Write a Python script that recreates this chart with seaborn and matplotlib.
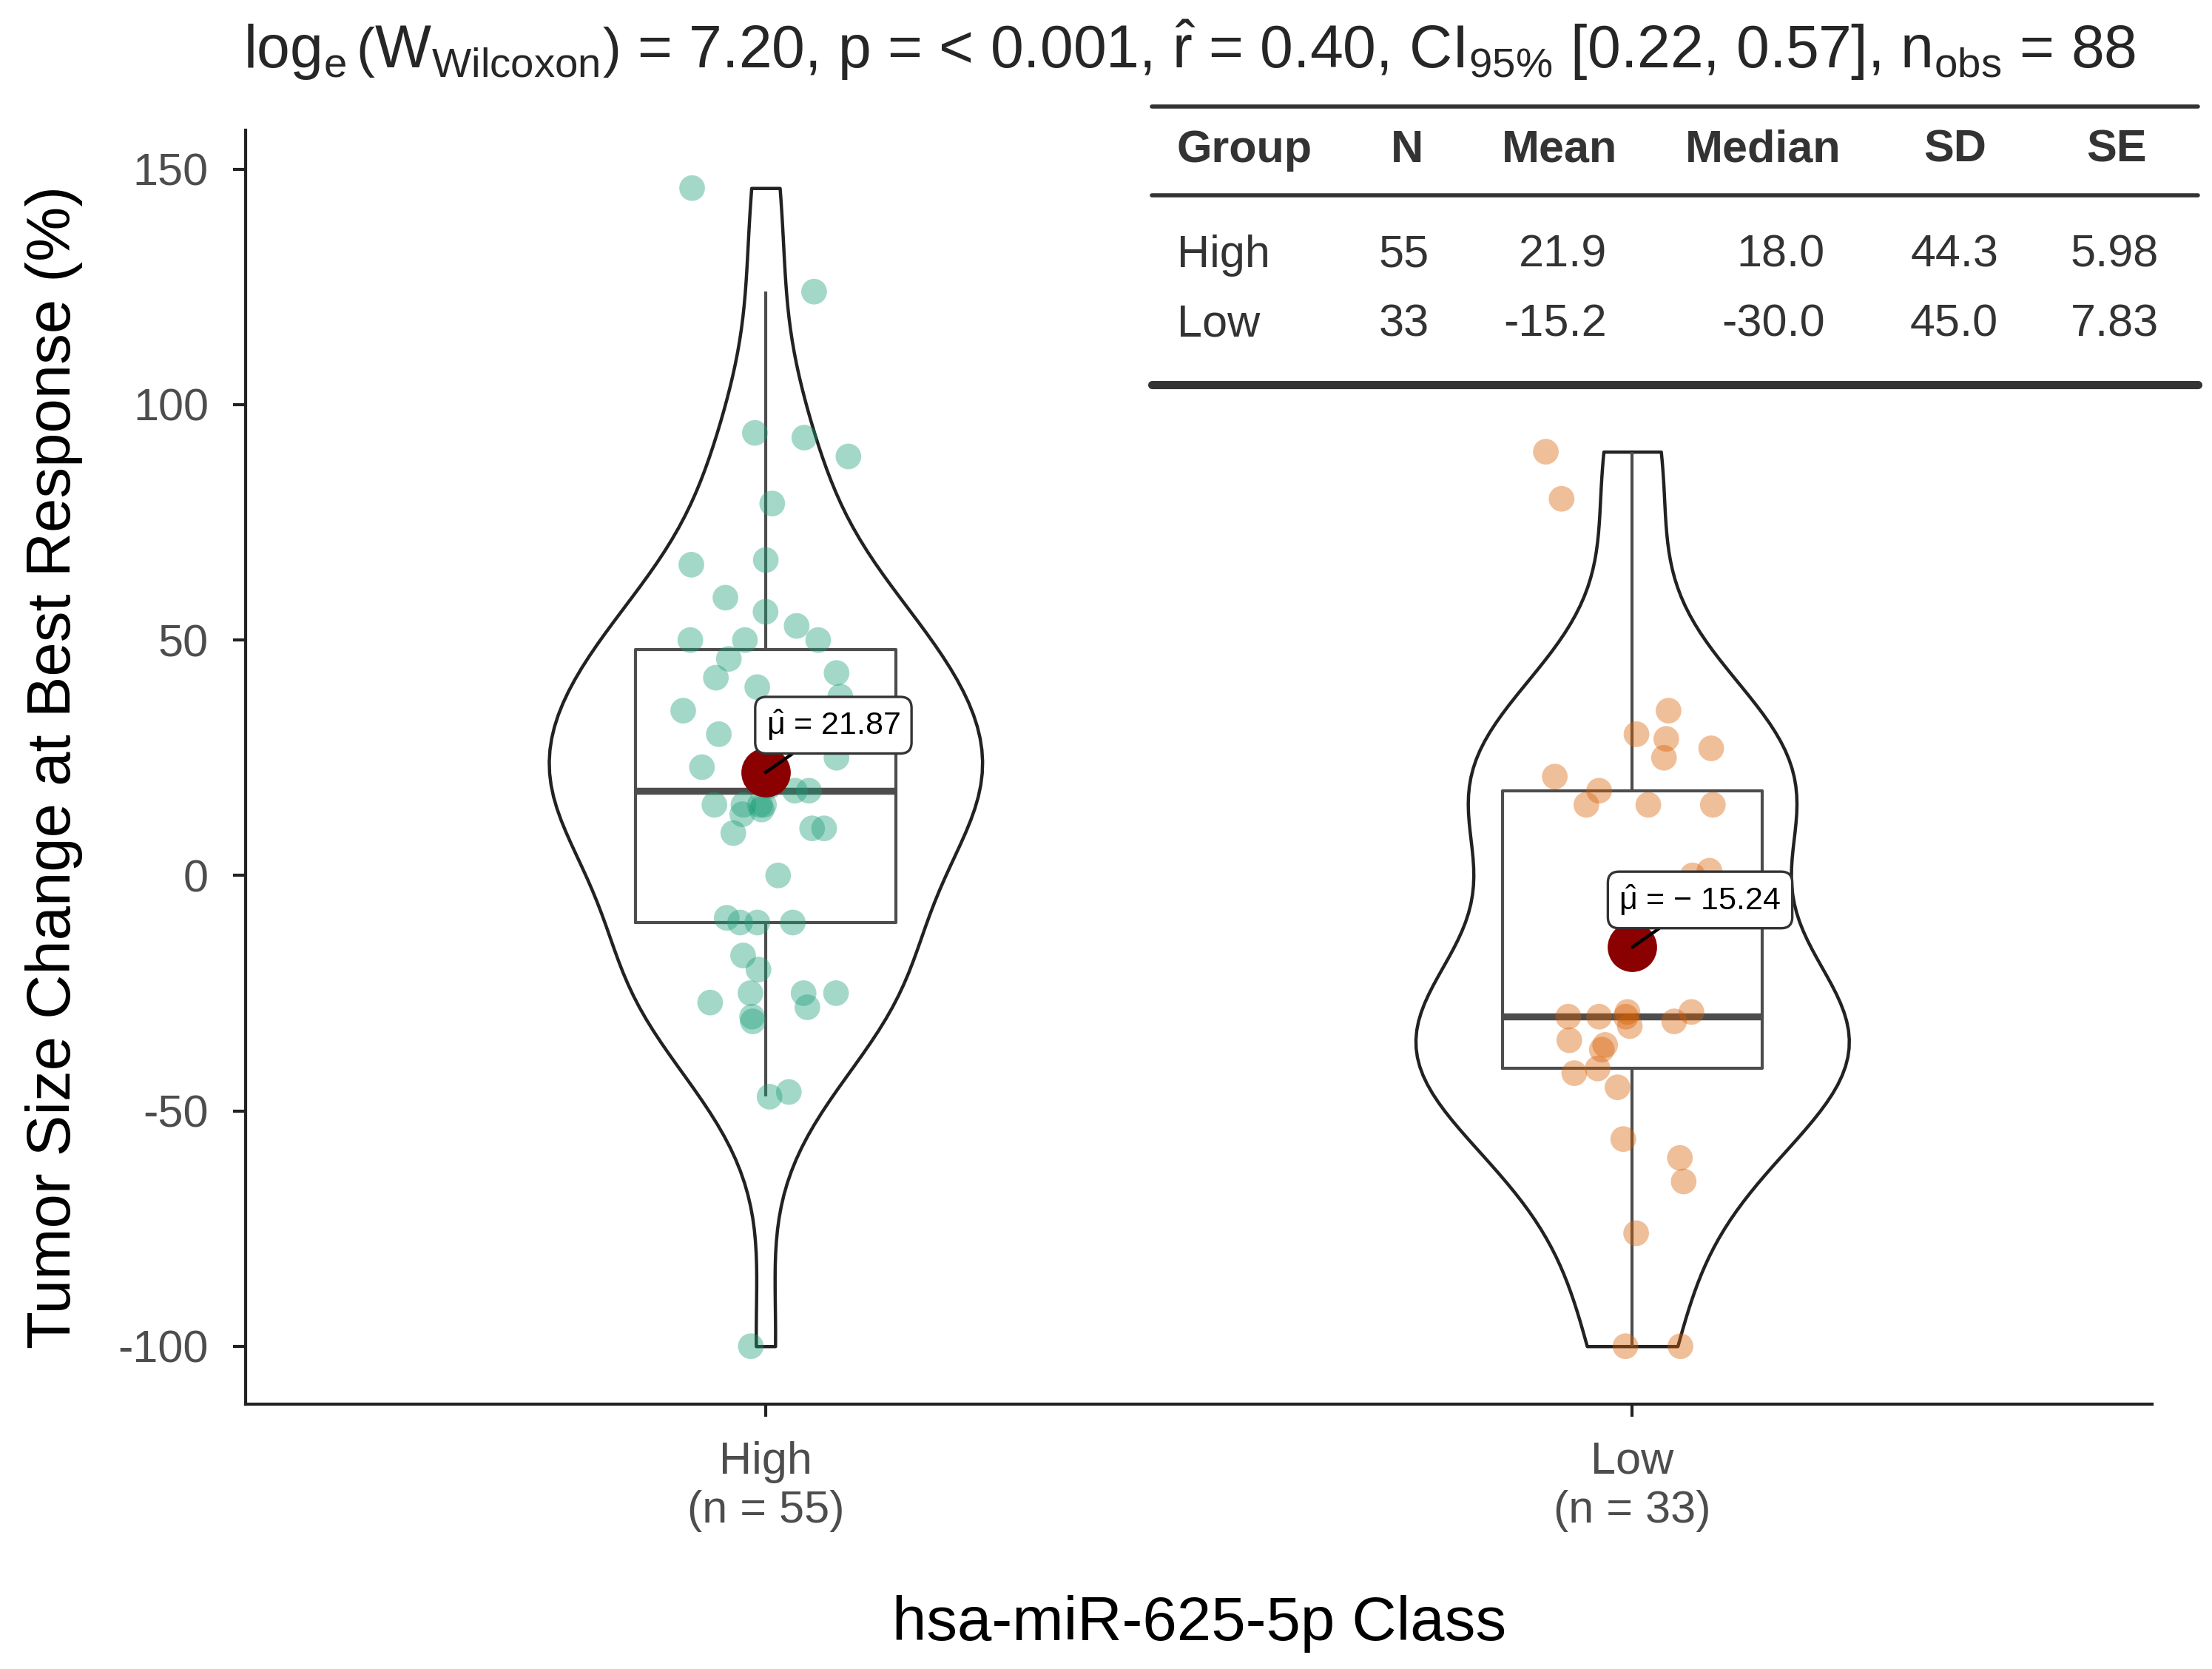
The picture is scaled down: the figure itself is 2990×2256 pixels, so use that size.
import numpy as np
import pandas as pd
import matplotlib
matplotlib.use("Agg")
import matplotlib.pyplot as plt
import seaborn as sns

# values
groups = ["High", "Low"]
high_vals = [146, 124, 94, 93, 89, 79, 67, 66, 59, 56, 53, 50, 50, 50, 46, 43,
             42, 40, 38, 35, 34, 32, 30, 28, 25, 23, 19, 18, 18, 15, 15, 15, 15,
             14, 13, 10, 10, 9, 0, -9, -10, -10, -10, -17, -20, -25, -25, -25,
             -27, -28, -30, -31, -46, -47, -100]
low_vals = [90, 80, 35, 30, 29, 27, 25, 21, 18, 15, 15, 15, 1, 0,
            -29, -29, -30, -30, -30, -31, -32, -35, -36, -37, -41, -42, -45,
            -56, -60, -65, -76, -100, -100]
group_colors = ["#1B9E77", "#D95F02"]

title_txt = (r"$\log_{\mathrm{e}}\left(\mathrm{W}_{\mathrm{Wilcoxon}}\right)$ = 7.20, p = < 0.001, "
             r"$\hat{\mathrm{r}}$ = 0.40, CI$_{95\%}$ [0.22, 0.57], n$_{\mathrm{obs}}$ = 88")

table_header = ["Group", "N", "Mean", "Median", "SD", "SE"]
table_group = ["High", "Low"]
table_n = ["55", "33"]
table_mean = ["21.9", "-15.2"]
table_median = ["18.0", "-30.0"]
table_sd = ["44.3", "45.0"]
table_se = ["5.98", "7.83"]

df = pd.DataFrame({
    "cls": ["High"] * len(high_vals) + ["Low"] * len(low_vals),
    "value": high_vals + low_vals,
})

sns.set_theme(style="ticks")
plt.rcParams["font.family"] = ["Liberation Sans", "DejaVu Sans"]
plt.rcParams["mathtext.fontset"] = "custom"
plt.rcParams["mathtext.rm"] = "Liberation Sans"
plt.rcParams["mathtext.it"] = "Liberation Sans"
plt.rcParams["mathtext.bf"] = "Liberation Sans:bold"

fig = plt.figure(figsize=(14.95, 11.28), dpi=200)
ax = fig.add_axes([0.111, 0.1587, 0.862, 0.7633])

pal = dict(zip(groups, group_colors))

sns.violinplot(data=df, x="cls", y="value", order=groups, cut=0, bw_adjust=0.92,
               width=0.5, density_norm="width", inner=None, color="white",
               linecolor="#222222", linewidth=1.6, saturation=1, ax=ax, zorder=1)

sns.boxplot(data=df, x="cls", y="value", order=groups, width=0.3, showfliers=False,
            showcaps=False, fill=False, color="#4D4D4D", linewidth=1.5,
            medianprops={"linewidth": 3.4}, whis=1.5, ax=ax, zorder=2)

np.random.seed(7)
sns.stripplot(data=df, x="cls", y="value", order=groups, hue="cls", palette=pal,
              alpha=0.4, size=12.5, jitter=0.1, linewidth=0, legend=False,
              ax=ax, zorder=3)

sns.pointplot(data=df, x="cls", y="value", order=groups, estimator="mean",
              errorbar=None, linestyle="none", color="#8B0000", markersize=22,
              ax=ax, zorder=5)

means = df.groupby("cls")["value"].mean()
for i, g in enumerate(groups):
    lab = r"$\hat{\mu}$ = " + f"{means[g]:.2f}".replace("-", "\u2212 ")
    ax.annotate(lab, xy=(i, means[g]), xytext=(33, 23), textcoords="offset points",
                ha="center", va="center", fontsize=15.5, color="black", zorder=6,
                bbox=dict(boxstyle="round,pad=0.35,rounding_size=0.35", fc="white",
                          ec="#333333", lw=1.2),
                arrowprops=dict(arrowstyle="-", color="black", lw=1.6,
                                shrinkA=0, shrinkB=0))

ax.set_ylim(-112.3, 158.3)
ax.set_xlim(-0.6, 1.6)
ax.set_yticks([-100, -50, 0, 50, 100, 150])
ax.set_yticklabels(["-100", "-50", "0", "50", "100", "150"])
counts = df["cls"].value_counts()
ax.set_xticks(range(len(groups)))
ax.set_xticklabels([f"{g}\n(n = {counts[g]})" for g in groups])

for side in ["top", "right"]:
    ax.spines[side].set_visible(False)
for side in ["left", "bottom"]:
    ax.spines[side].set_linewidth(1.5)
    ax.spines[side].set_color("#222222")
ax.tick_params(axis="both", length=6, width=1.5, color="#222222",
               labelsize=22, labelcolor="#4D4D4D", pad=12)

ax.set_xlabel("hsa-miR-625-5p Class", fontsize=30, color="black")
ax.set_ylabel("Tumor Size Change at Best Response (%)", fontsize=30, color="black")
ax.xaxis.set_label_coords(0.5, -0.1725)
ax.xaxis.label.set_va("center")
ax.yaxis.set_label_coords(-0.1005, 0.5)
ax.yaxis.label.set_va("center")

fig.text(0.110, 0.959, title_txt, fontsize=29, ha="left", va="baseline")

# summary table
line_x = [0.5206, 0.9937]
fig.add_artist(plt.Line2D(line_x, [0.936, 0.936], color="#333333", lw=2.0))
fig.add_artist(plt.Line2D(line_x, [0.8828, 0.8828], color="#333333", lw=2.0))
fig.add_artist(plt.Line2D(line_x, [0.7697, 0.7697], color="#333333", lw=4.0))

head_x = [0.532, 0.636, 0.705, 0.797, 0.884, 0.957]
head_ha = ["left", "center", "center", "center", "center", "center"]
for hx, ha, h in zip(head_x, head_ha, table_header):
    fig.text(hx, 0.910, h, fontsize=22, fontweight="bold", ha=ha, va="center",
             color="#333333")

val_x = [0.646, 0.7264, 0.825, 0.9034, 0.9759]
row_y = [0.847, 0.8054]
for r, ry in enumerate(row_y):
    fig.text(0.532, ry, table_group[r], fontsize=22, ha="left", va="center",
             color="#333333")
    for vx, col in zip(val_x, [table_n, table_mean, table_median, table_sd, table_se]):
        fig.text(vx, ry, col[r], fontsize=22, ha="right", va="center", color="#333333")

fig.savefig("out.png", dpi=200)
